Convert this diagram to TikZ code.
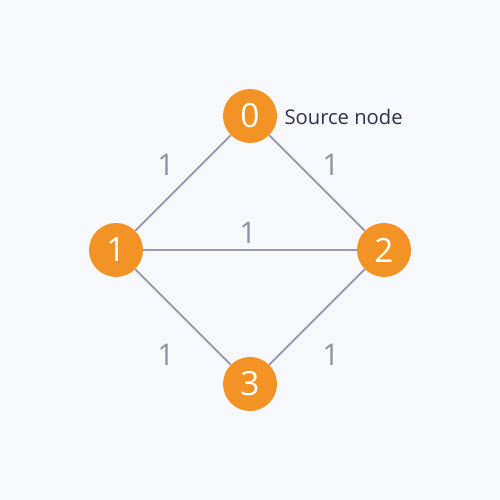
\documentclass[tikz,border=0pt]{standalone}
\usepackage{fontspec}
\setmainfont{Open Sans}
\usetikzlibrary{positioning}
\definecolor{bgcol}{HTML}{F7F8FB}
\definecolor{nodeorange}{HTML}{F39325}
\definecolor{edgegray}{HTML}{9A9CB0}
\definecolor{labelgray}{HTML}{8F91A5}
\definecolor{textnavy}{HTML}{2D3047}
\tikzset{
    vertex/.style={circle, fill=nodeorange, text=white, minimum size=1.08cm, inner sep=0pt, font=\fontsize{19}{19}\selectfont},
    edge/.style={draw=edgegray, line width=1.1pt},
    weight/.style={text=labelgray, font=\fontsize{17}{17}\selectfont},
    note/.style={text=textnavy, font=\fontsize{11.5}{11.5}\selectfont}
}
\begin{document}
\begin{tikzpicture}
        \useasboundingbox[fill=bgcol] (0,0) rectangle (10,10);
        % Vertices
        \node (v0) [vertex] at (5,7.68) {0};
        \node (v1) [vertex] at (2.32,5) {1};
        \node (v2) [vertex] at (7.68,5) {2};
        \node (v3) [vertex] at (5,2.32) {3};
        \node (src) [note, right=0.02cm of v0, yshift=-0.02cm] {Source node};

        % Edges
        \draw [edge] (v0) -- (v1);
        \draw [edge] (v0) -- (v2);
        \draw [edge] (v1) -- (v2);
        \draw [edge] (v1) -- (v3);
        \draw [edge] (v2) -- (v3);

        % Weights
        \node (w01) [weight] at (3.32,6.7) {1};
        \node (w02) [weight] at (6.62,6.7) {1};
        \node (w12) [weight] at (4.96,5.34) {1};
        \node (w13) [weight] at (3.32,2.9) {1};
        \node (w23) [weight] at (6.62,2.9) {1};
\end{tikzpicture}
\end{document}
